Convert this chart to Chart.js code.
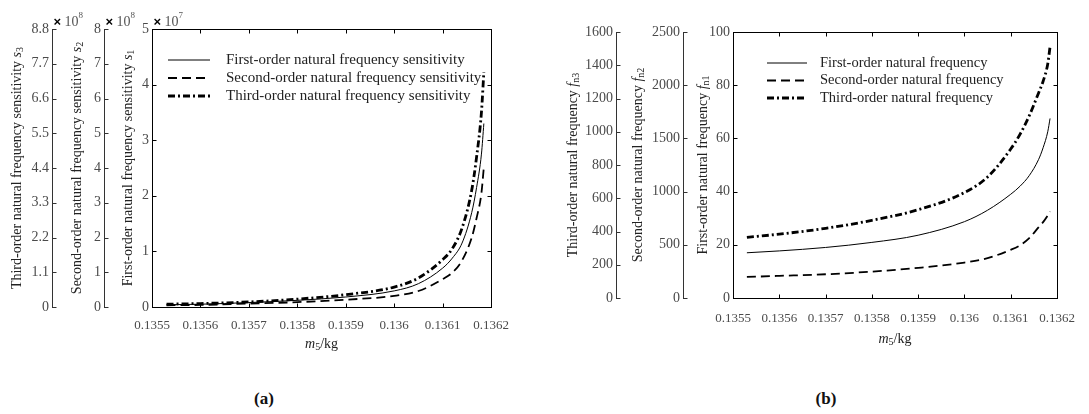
<!DOCTYPE html>
<html>
<head>
<meta charset="utf-8">
<script src="https://cdn.jsdelivr.net/npm/chart.js@4.4.0/dist/chart.umd.min.js"></script>
<style>
  body { margin: 0; background: #fff; }
  #wrap { position: relative; width: 1089px; height: 414px; overflow: hidden; }
  #boxA { position: absolute; left: 0; top: 0; width: 520px; height: 370px; }
  #boxB { position: absolute; left: 560px; top: 0; width: 529px; height: 360px; }
  .cap { position: absolute; top: 389px; width: 60px; text-align: center; font: bold 17px 'Liberation Serif', serif; color: #111; }
</style>
</head>
<body>
<div id="wrap">
  <div id="boxA"><canvas id="chartA"></canvas></div>
  <div id="boxB"><canvas id="chartB"></canvas></div>
  <div class="cap" style="left:234px">(a)</div>
  <div class="cap" style="left:796px">(b)</div>
</div>
<script>
// m5 in kg
var mass = [0.13553, 0.1356, 0.1357, 0.1358, 0.1359, 0.136, 0.13605, 0.1361, 0.13612, 0.13614, 0.13616, 0.13617, 0.13618, 0.136185];
var xTicks = [0.1355, 0.1356, 0.1357, 0.1358, 0.1359, 0.136, 0.1361, 0.1362];

// (a) sensitivities: s1 in 1e7, s2 and s3 in 1e8
var sens1 = [0.04, 0.05, 0.08, 0.12, 0.18, 0.29, 0.42, 0.7, 0.88, 1.15, 1.7, 2.15, 2.75, 3.3];
var sens2 = [0.05, 0.06, 0.1, 0.14, 0.21, 0.32, 0.46, 0.8, 0.99, 1.34, 2.0, 2.56, 3.28, 4.03];
var sens3 = [0.09, 0.11, 0.16, 0.25, 0.39, 0.63, 0.92, 1.5, 1.85, 2.5, 3.7, 4.75, 6.16, 7.44];
var s1Ticks = [0, 1, 2, 3, 4, 5];
var s2Ticks = [0, 1, 2, 3, 4, 5, 6, 7, 8];
var s3Ticks = [0, 1.1, 2.2, 3.3, 4.4, 5.5, 6.6, 7.7, 8.8];

// (b) natural frequencies
var freq1 = [17.0, 17.7, 19.0, 20.9, 23.6, 28.7, 33.0, 39.0, 42.0, 46.0, 52.0, 56.5, 62.5, 67.5];
var freq2 = [198, 208, 223, 248, 283, 333, 375, 453, 495, 563, 663, 713, 775, 813];
var freq3 = [365, 384, 419, 467, 531, 634, 728, 896, 984, 1096, 1232, 1304, 1408, 1512];
var f1Ticks = [0, 20, 40, 60, 80, 100];
var f2Ticks = [0, 500, 1000, 1500, 2000, 2500];
var f3Ticks = [0, 200, 400, 600, 800, 1000, 1200, 1400, 1600];

var namesA = ['First-order natural frequency sensitivity', 'Second-order natural frequency sensitivity', 'Third-order natural frequency sensitivity'];
var namesB = ['First-order natural frequency', 'Second-order natural frequency', 'Third-order natural frequency'];

var SERIF = "'Liberation Serif', 'Times New Roman', serif";
var tickFont = { family: SERIF, size: 14 };
var tickColor = '#4a4a4a';

var solid = { borderColor: '#000', borderWidth: 1, borderDash: [] };
var dashed = { borderColor: '#000', borderWidth: 1.8, borderDash: [9, 5] };
var dashDot = { borderColor: '#000', borderWidth: 2.8, borderDash: [7, 3, 2, 3] };

function series(label, ys, axis, style) {
  return Object.assign({
    label: label,
    data: mass.map(function (m, i) { return { x: m, y: ys[i] }; }),
    yAxisID: axis,
    pointRadius: 0,
    fill: false,
    cubicInterpolationMode: 'monotone'
  }, style);
}

function yAxis(ticks, max, weight, width) {
  return {
    type: 'linear', position: 'left', weight: weight, min: 0, max: max,
    afterBuildTicks: function (s) { s.ticks = ticks.map(function (v) { return { value: v }; }); },
    afterFit: function (s) { s.width = width; },
    ticks: { callback: function (v) { return String(v); }, font: tickFont, color: tickColor, padding: 3 },
    grid: { display: false, drawTicks: false },
    border: { display: true, color: '#333', width: 1 }
  };
}

function xAxis(height, pad) {
  return {
    type: 'linear', min: 0.1355, max: 0.1362,
    afterBuildTicks: function (s) { s.ticks = xTicks.map(function (v) { return { value: v }; }); },
    afterFit: function (s) { s.height = height; },
    ticks: { callback: function (v) { return String(v); }, font: { family: SERIF, size: 13 }, color: tickColor, padding: pad, maxRotation: 0, autoSkip: false },
    grid: { display: false, drawTicks: false },
    border: { display: false }
  };
}

function line(ctx, x1, y1, x2, y2) {
  ctx.beginPath(); ctx.moveTo(x1, y1); ctx.lineTo(x2, y2); ctx.stroke();
}

// draws runs of text centred on (x, y)
function rich(ctx, runs, x, y) {
  var w = 0;
  runs.forEach(function (r) { ctx.font = r.f; w += ctx.measureText(r.t).width; });
  var cx = x - w / 2;
  ctx.textAlign = 'left';
  ctx.textBaseline = 'middle';
  runs.forEach(function (r) {
    ctx.font = r.f;
    ctx.fillText(r.t, cx, y + (r.dy || 0));
    cx += ctx.measureText(r.t).width;
  });
}

function titleRuns(text, sym, sub) {
  return [
    { t: text, f: '14px ' + SERIF },
    { t: sym, f: 'italic 14px ' + SERIF },
    { t: sub, f: '10px ' + SERIF, dy: 3 }
  ];
}

var decor = {
  id: 'decor',
  afterDraw: function (chart, args, opts) {
    var ctx = chart.ctx, area = chart.chartArea;
    ctx.save();
    ctx.strokeStyle = '#000';
    ctx.lineWidth = 1;
    ctx.setLineDash([]);
    var L = Math.round(area.left) + 0.5, R = Math.round(area.right) + 0.5;
    var T = Math.round(area.top) + 0.5, B = Math.round(area.bottom) + 0.5;
    ctx.strokeRect(L, T, R - L, B - T);

    // inward ticks on the box
    var xs = chart.scales.x;
    xs.ticks.forEach(function (t, i) {
      var px = Math.round(xs.getPixelForTick(i)) + 0.5;
      line(ctx, px, B, px, B - 4);
      line(ctx, px, T, px, T + 4);
    });

    opts.axes.forEach(function (a) {
      var sc = chart.scales[a.id];
      var x0 = Math.round(sc.right) + 0.5;
      ctx.strokeStyle = a.mirror ? '#000' : '#333';
      sc.ticks.forEach(function (t, i) {
        var py = Math.round(sc.getPixelForTick(i)) + 0.5;
        line(ctx, x0, py, x0 + 4, py);
        if (a.mirror) line(ctx, R, py, R - 4, py);
      });

      ctx.fillStyle = '#222';
      ctx.save();
      ctx.translate(sc.left + a.titleX, (area.top + area.bottom) / 2);
      ctx.rotate(-Math.PI / 2);
      rich(ctx, a.title, 0, 0);
      ctx.restore();

      if (a.exp) {
        var y = area.top - 7;
        ctx.textAlign = 'left';
        ctx.textBaseline = 'middle';
        ctx.fillStyle = '#000';
        ctx.font = 'bold 13px ' + "'Liberation Sans', sans-serif";
        ctx.fillText('\u00d7', x0 + 1, y);
        ctx.fillStyle = '#555';
        ctx.font = '14px ' + SERIF;
        ctx.fillText('10', x0 + 12, y);
        ctx.font = '9px ' + SERIF;
        ctx.fillText(a.exp, x0 + 26, y - 6);
      }
    });

    // legend inside the plot
    var lg = opts.legend;
    chart.data.datasets.forEach(function (ds, i) {
      var y = area.top + lg.y + i * lg.dy;
      ctx.strokeStyle = ds.borderColor;
      ctx.lineWidth = ds.borderWidth;
      ctx.setLineDash(ds.borderDash);
      line(ctx, area.left + lg.x, y, area.left + lg.x + lg.len, y);
      ctx.setLineDash([]);
      ctx.fillStyle = '#222';
      ctx.font = lg.size + 'px ' + SERIF;
      ctx.textAlign = 'left';
      ctx.textBaseline = 'middle';
      ctx.fillText(ds.label, area.left + lg.x + lg.len + lg.gap, y);
    });

    // x axis title m5/kg
    ctx.fillStyle = '#222';
    rich(ctx, [
      { t: 'm', f: 'italic 14px ' + SERIF },
      { t: '5', f: '10px ' + SERIF, dy: 3 },
      { t: '/kg', f: '14px ' + SERIF }
    ], (area.left + area.right) / 2, opts.xTitleY);
    ctx.restore();
  }
};

var chartA = new Chart(document.getElementById('chartA'), {
  type: 'line',
  data: {
    datasets: [
      series(namesA[0], sens1, 'y', solid),
      series(namesA[1], sens2, 'y2', dashed),
      series(namesA[2], sens3, 'y3', dashDot)
    ]
  },
  options: {
    responsive: true,
    maintainAspectRatio: false,
    animation: false,
    layout: { padding: { top: 29, right: 26, left: 0, bottom: 0 } },
    scales: {
      x: xAxis(63, 11),
      y3: yAxis(s3Ticks, 8.8, 3, 52),
      y2: yAxis(s2Ticks, 8, 2, 52),
      y: yAxis(s1Ticks, 5, 1, 48)
    },
    plugins: {
      legend: { display: false },
      tooltip: { enabled: false },
      decor: {
        axes: [
          { id: 'y3', titleX: 17, exp: '8', title: titleRuns('Third-order natural frequency sensitivity ', 's', '3') },
          { id: 'y2', titleX: 25, exp: '8', title: titleRuns('Second-order natural frequency sensitivity ', 's', '2') },
          { id: 'y', titleX: 24, exp: '7', mirror: true, title: titleRuns('First-order natural frequency sensitivity ', 's', '1') }
        ],
        legend: { x: 16, len: 42, gap: 16, y: 31, dy: 18, size: 15 },
        xTitleY: 344
      }
    }
  },
  plugins: [decor]
});

var chartB = new Chart(document.getElementById('chartB'), {
  type: 'line',
  data: {
    datasets: [
      series(namesB[0], freq1, 'y', solid),
      series(namesB[1], freq2, 'y2', dashed),
      series(namesB[2], freq3, 'y3', dashDot)
    ]
  },
  options: {
    responsive: true,
    maintainAspectRatio: false,
    animation: false,
    layout: { padding: { top: 32, right: 32, left: 0, bottom: 0 } },
    scales: {
      x: xAxis(62, 13),
      y3: yAxis(f3Ticks, 1600, 3, 56),
      y2: yAxis(f2Ticks, 2500, 2, 67),
      y: yAxis(f1Ticks, 100, 1, 50)
    },
    plugins: {
      legend: { display: false },
      tooltip: { enabled: false },
      decor: {
        axes: [
          { id: 'y3', titleX: 13, title: titleRuns('Third-order natural frequency ', 'f', 'n3') },
          { id: 'y2', titleX: 22, title: titleRuns('Second-order natural frequency ', 'f', 'n2') },
          { id: 'y', titleX: 20, mirror: true, title: titleRuns('First-order natural frequency ', 'f', 'n1') }
        ],
        legend: { x: 34, len: 40, gap: 13, y: 31, dy: 17.5, size: 14.5 },
        xTitleY: 339
      }
    }
  },
  plugins: [decor]
});
</script>
</body>
</html>
